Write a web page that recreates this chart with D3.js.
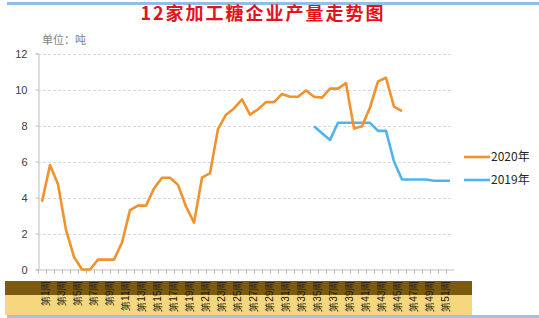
<!DOCTYPE html>
<html>
<head>
<meta charset="utf-8">
<script src="https://cdn.jsdelivr.net/npm/d3@7"></script>
<style>
  body { margin: 0; background: #fff; }
  svg { display: block; font-family: "Noto Sans CJK SC", "Noto Sans", sans-serif; }
</style>
</head>
<body>
<div id="chart"></div>
<script>
// weeks 1..52, label shown on every other week
var weeks = [];
for (var i = 1; i <= 52; i++) { weeks.push("第" + i + "周"); }

var series2020 = [3.76, 5.8, 4.74, 2.2, 0.7, 0.0, 0.0, 0.55, 0.55, 0.55,
  1.5, 3.3, 3.55, 3.55, 4.5, 5.1, 5.1, 4.7, 3.5, 2.6,
  5.1, 5.35, 7.8, 8.6, 8.95, 9.45, 8.6, 8.9, 9.3, 9.3,
  9.75, 9.6, 9.6, 9.95, 9.6, 9.55, 10.05, 10.05, 10.35, 7.83,
  7.96, 9.0, 10.45, 10.65, 9.05, 8.8];

// 2019 starts at week 35
var start2019 = 34;
var series2019 = [7.96, 7.57, 7.2, 8.15, 8.15, 8.15, 8.15, 8.15, 7.7, 7.7,
  6.0, 5.0, 5.0, 5.0, 5.0, 4.93, 4.93, 4.93];

var yTicks = [0, 2, 4, 6, 8, 10, 12];
var legendNames = ["2020年", "2019年"];
var colors = ["#f0922e", "#4fb4ee"];

var width = 539, height = 318;
var svg = d3.select("#chart").append("svg")
  .attr("width", width)
  .attr("height", height);

// frame bits from the screenshot
svg.append("rect").attr("x", 7).attr("y", 2).attr("width", 532).attr("height", 3).attr("fill", "#93bde4");
svg.append("rect").attr("x", 5).attr("y", 295).attr("width", 467).attr("height", 20).attr("fill", "#f5d77f");
svg.append("rect").attr("x", 5).attr("y", 281).attr("width", 467).attr("height", 14).attr("fill", "#7d5a12");
svg.append("rect").attr("x", 7).attr("y", 315).attr("width", 532).attr("height", 3).attr("fill", "#9dc3e6");

var x = d3.scaleBand()
  .domain(weeks)
  .range([38, 454]);

var y = d3.scaleLinear()
  .domain([0, 12])
  .range([269.5, 53.5]);

//title
svg.append("text")
  .attr("x", 263)
  .attr("y", 20)
  .attr("text-anchor", "middle")
  .style("font-size", "18px")
  .style("letter-spacing", "2px")
  .style("font-weight", "bold")
  .attr("fill", "#e3121b")
  .text("12家加工糖企业产量走势图");

svg.append("text")
  .attr("x", 42)
  .attr("y", 44)
  .style("font-size", "11px")
  .attr("fill", "#7f7f7f")
  .text("单位：吨");

//grid
svg.append("g").selectAll("line")
  .data(yTicks.filter(function(d){ return d > 0; }))
  .enter().append("line")
  .attr("x1", 38).attr("x2", 452)
  .attr("y1", d => Math.round(y(d)) + 0.5)
  .attr("y2", d => Math.round(y(d)) + 0.5)
  .attr("stroke", "#d9d9d9")
  .attr("stroke-dasharray", "3,2");

//y axis
var yAxis = svg.append("g")
  .attr("transform", "translate(38.5,0)")
  .call(d3.axisLeft(y).tickValues(yTicks).tickSize(3).tickFormat(d3.format("d")));
yAxis.select(".domain").attr("stroke", "#bfbfbf");
yAxis.selectAll(".tick line").attr("stroke", "#bfbfbf");
yAxis.selectAll("text")
  .attr("x", -11)
  .attr("fill", "#404040")
  .style("font-size", "11px")
  .style("font-family", "\"Liberation Sans\", sans-serif");

//x axis
var xAxis = svg.append("g")
  .attr("transform", "translate(0,269.5)")
  .call(d3.axisBottom(x).tickSize(0).tickFormat(function(d, i){ return i % 2 == 0 ? d : ""; }));
xAxis.select(".domain").attr("stroke", "#bfbfbf");
xAxis.selectAll("text")
  .attr("transform", "translate(3,11) rotate(-90)")
  .attr("text-anchor", "end")
  .attr("x", 0)
  .attr("y", 0)
  .attr("dy", "0.35em")
  .attr("fill", "#1a1a1a")
  .style("font-size", "10px");

// tick marks between categories
svg.append("g").selectAll("line")
  .data(weeks)
  .enter().append("line")
  .attr("x1", d => Math.round(x(d)) + 0.5)
  .attr("x2", d => Math.round(x(d)) + 0.5)
  .attr("y1", 269.5).attr("y2", 273.5)
  .attr("stroke", "#bfbfbf");

var line = d3.line()
  .x(d => x(d[0]) + x.bandwidth() / 2)
  .y(d => y(d[1]));

var pts2020 = series2020.map(function(v, i){ return [weeks[i], v]; });
var pts2019 = series2019.map(function(v, i){ return [weeks[start2019 + i], v]; });

svg.append("path")
  .datum(pts2019)
  .attr("fill", "none")
  .attr("stroke", colors[1])
  .attr("stroke-width", 2.6)
  .attr("stroke-linejoin", "round")
  .attr("d", line);

svg.append("path")
  .datum(pts2020)
  .attr("fill", "none")
  .attr("stroke", colors[0])
  .attr("stroke-width", 2.6)
  .attr("stroke-linejoin", "round")
  .attr("d", line);

//legend
var legend = svg.append("g").selectAll("g")
  .data(legendNames)
  .enter().append("g")
  .attr("transform", (d, i) => "translate(464," + (157 + i * 23) + ")");

legend.append("line")
  .attr("x1", 0).attr("x2", 26)
  .attr("stroke", (d, i) => colors[i])
  .attr("stroke-width", 2.6);

legend.append("text")
  .attr("x", 27)
  .attr("dy", "0.35em")
  .style("font-size", "12px")
  .attr("fill", "#262626")
  .text(d => d);
</script>
</body>
</html>
